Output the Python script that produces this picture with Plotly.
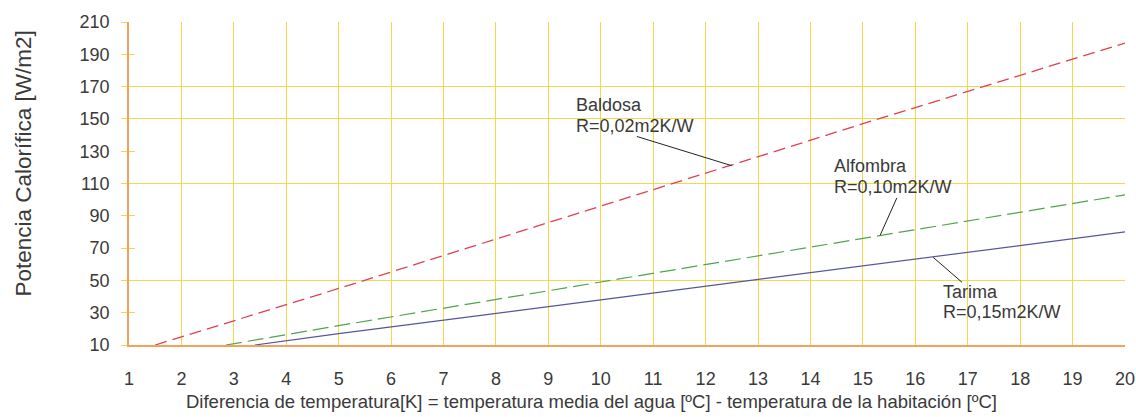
import plotly.graph_objects as go

# ---- data ----
baldosa_x = [1.5, 2, 5, 10, 15, 20]
baldosa_y = [10, 15, 45, 96, 147, 197]

alfombra_x = [2.85, 5, 10, 15, 20]
alfombra_y = [10, 22, 49, 76, 103]

tarima_x = [3.4, 5, 10, 15, 20]
tarima_y = [10, 17, 38, 59, 80]

x_ticks = list(range(1, 21))
y_ticks = list(range(10, 211, 20))
y_grid = [50, 110, 150, 170, 210]

FONT = "Arial, Liberation Sans, sans-serif"
YELLOW = "#f3d84a"
ORANGE = "#f2a25a"
TXT = "#3a3a3a"

fig = go.Figure()
fig.add_trace(go.Scatter(x=baldosa_x, y=baldosa_y, mode="lines",
                         line=dict(color="#e2404f", width=1.3, dash="12px,6px"),
                         showlegend=False, hoverinfo="skip"))
fig.add_trace(go.Scatter(x=alfombra_x, y=alfombra_y, mode="lines",
                         line=dict(color="#4fa54f", width=1.2, dash="16px,6px"),
                         showlegend=False, hoverinfo="skip"))
fig.add_trace(go.Scatter(x=tarima_x, y=tarima_y, mode="lines",
                         line=dict(color="#55559e", width=1.2),
                         showlegend=False, hoverinfo="skip"))
# invisible anchors so the overlay axes (grid / inner ticks) get drawn
for ax_name in ("y2", "y3"):
    fig.add_trace(go.Scatter(x=[x_ticks[0]], y=[y_ticks[0]], yaxis=ax_name,
                             mode="markers", marker=dict(opacity=0),
                             showlegend=False, hoverinfo="skip"))

labels = [
    # name, resistance, text x, text y, head x, head y, tail x, tail y
    ("Baldosa", "R=0,02m2K/W", 9.51, 165.3, 12.5, 121, 10.66, 139.4),
    ("Alfombra", "R=0,10m2K/W", 14.43, 127.6, 15.33, 78, 15.66, 102),
    ("Tarima", "R=0,15m2K/W", 16.51, 49.8, 16.34, 64.3, 16.92, 48),
]
for name, res, tx, ty, hx, hy, ax, ay in labels:
    fig.add_annotation(x=hx, y=hy, ax=ax, ay=ay, axref="x", ayref="y",
                       xref="x", yref="y", text="", showarrow=True,
                       arrowhead=0, arrowwidth=1, arrowcolor="#222222")
    for i, line in enumerate((name, res)):
        fig.add_annotation(x=tx, y=ty, xref="x", yref="y", text=line,
                           showarrow=False, xanchor="left", yanchor="top",
                           yshift=-20.7 * i, borderpad=0,
                           font=dict(family=FONT, size=18, color=TXT))

fig.add_annotation(text="Potencia Calorífica [W/m2]", xref="paper", yref="paper",
                   x=0, y=0.5, xshift=-106, yshift=20, textangle=-90, showarrow=False,
                   xanchor="center", yanchor="middle",
                   font=dict(family=FONT, size=22.5, color=TXT))
fig.add_annotation(text="Diferencia de temperatura[K] = temperatura media del agua [ºC] - temperatura de la habitación [ºC]",
                   xref="paper", yref="paper", x=0.5, y=0, xshift=-36, yshift=-56,
                   xanchor="center", yanchor="middle", showarrow=False,
                   font=dict(family=FONT, size=18.5, color=TXT))

fig.update_layout(
    width=1136, height=417,
    margin=dict(l=129, r=11, t=22, b=72),
    paper_bgcolor="white", plot_bgcolor="white",
    xaxis=dict(range=[1, 20], tickvals=x_ticks, showgrid=True, gridcolor=YELLOW,
               gridwidth=1, showline=True, linecolor=ORANGE, linewidth=1.5,
               ticks="", zeroline=False, ticklabelstandoff=17, automargin=False,
               tickfont=dict(family=FONT, size=18, color=TXT)),
    yaxis=dict(range=[10, 210], tickvals=y_ticks, showgrid=False,
               showline=True, linecolor=ORANGE, linewidth=1.5,
               ticks="outside", ticklen=6, tickcolor=YELLOW, tickwidth=1,
               zeroline=False, ticklabelstandoff=8, automargin=False,
               tickfont=dict(family=FONT, size=18, color=TXT)),
    yaxis2=dict(range=[10, 210], overlaying="y", tickvals=y_grid, automargin=False,
                showgrid=True, gridcolor=YELLOW, gridwidth=1,
                showticklabels=False, ticks="", zeroline=False, showline=False),
    yaxis3=dict(range=[10, 210], overlaying="y", tickvals=y_ticks, automargin=False,
                showgrid=False, showticklabels=False, ticks="inside",
                ticklen=6, tickcolor=YELLOW, zeroline=False, showline=False),
)

fig.write_html("out.html", config={"displayModeBar": False},
               post_script="document.body.style.margin='0';document.body.style.overflow='hidden';")
